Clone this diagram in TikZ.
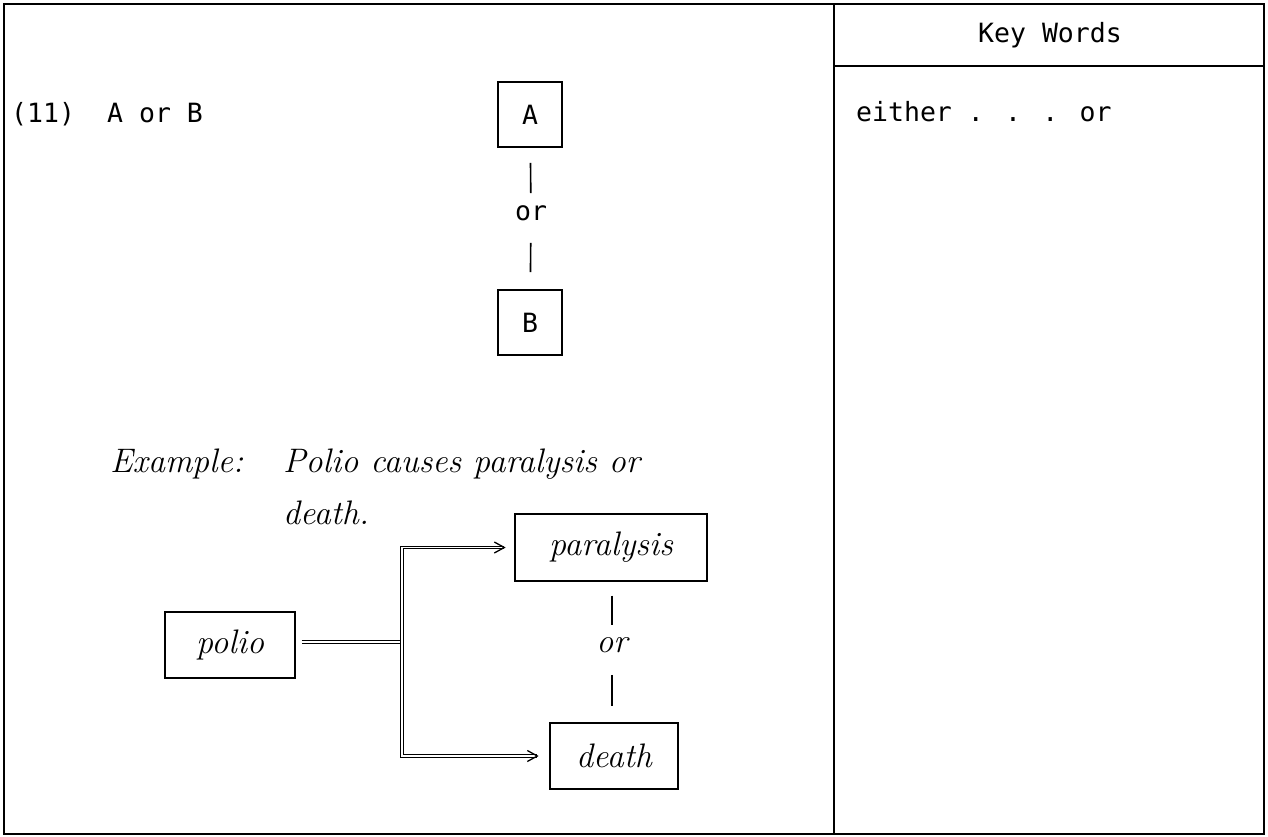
\documentclass[tikz,border=0pt]{standalone}
\usepackage{fontspec}
\newfontfamily\tw{DejaVu Sans Mono}
\usetikzlibrary{arrows.meta}
\begin{document}
\begin{tikzpicture}[x=1pt,y=-1pt,
  frame/.style={line width=2pt},
  tbox/.style={draw,line width=1.8pt,inner sep=0pt},
  sbox/.style={draw,line width=1.4pt,inner sep=0pt},
  twtext/.style={font=\tw\fontsize{26.5}{32}\selectfont},
  hand/.style={font=\itshape\fontsize{34}{40}\selectfont},
  dbl/.style={double,double distance=1.6pt,line width=1.1pt},
  chev/.style={line width=1.3pt,line join=miter},
  link/.style={line width=1.6pt}]
\useasboundingbox (0,0) rectangle (1268,837);
% frame
\draw[frame] (4,4) rectangle (1264,834);
\draw[frame] (834,4) -- (834,834);
\draw[frame] (834,66) -- (1264,66);
% right column
\node[twtext] (kw) at (1050,35) {Key Words};
\node[twtext,anchor=base west,inner sep=0pt] (kwords) at (856,122) {either . . . or};
% left column
\node[twtext,anchor=base west,inner sep=0pt] (num) at (11,123) {(11)};
\node[twtext,anchor=base west,inner sep=0pt] (aorb) at (107,123) {A or B};
\node[tbox,twtext,minimum width=64pt,minimum height=65pt] (A) at (530,114.5) {A};
\node[twtext,inner sep=0pt] (or1) at (531,213) {or};
\node[tbox,twtext,minimum width=64pt,minimum height=65pt] (B) at (530,322.5) {B};
\draw[link,shorten <=15pt,shorten >=12pt] (A) -- (or1);
\draw[link,shorten <=22pt,shorten >=17pt] (or1) -- (B);
% example
\node[hand,anchor=base west,inner sep=0pt] (ex) at (110,472) {Example:};
\node[hand,anchor=base west,inner sep=0pt] (sent1) at (283,472) {Polio causes paralysis or};
\node[hand,anchor=base west,inner sep=0pt] (sent2) at (283,524) {death.};
\node[sbox,hand,minimum width=130pt,minimum height=66pt] (polio) at (230,645) {polio};
\node[sbox,hand,minimum width=192pt,minimum height=67pt] (paralysis) at (611,547.5) {paralysis};
\node[sbox,hand,minimum width=128pt,minimum height=66pt] (death) at (614,756) {death};
\node[hand,inner sep=0pt] (or2) at (612,645) {or};
\draw[link,shorten <=14pt,shorten >=12pt] (paralysis.south -| or2) -- (or2);
\draw[link,shorten <=22pt,shorten >=16pt] (or2) -- (death.north -| or2);
% double connectors
\coordinate (j) at (402,642);
\draw[dbl,shorten <=6pt] (polio.east |- j) -- (j);
\draw[dbl,shorten >=10pt] (j) |- (paralysis);
\draw[dbl,shorten >=12pt] (j) |- (death);
\draw[chev] ([xshift=-20pt,yshift=5.5pt]paralysis.west) -- ([xshift=-10pt]paralysis.west) -- ([xshift=-20pt,yshift=-5.5pt]paralysis.west);
\draw[chev] ([xshift=-22pt,yshift=5.5pt]death.west) -- ([xshift=-12pt]death.west) -- ([xshift=-22pt,yshift=-5.5pt]death.west);
\end{tikzpicture}
\end{document}
